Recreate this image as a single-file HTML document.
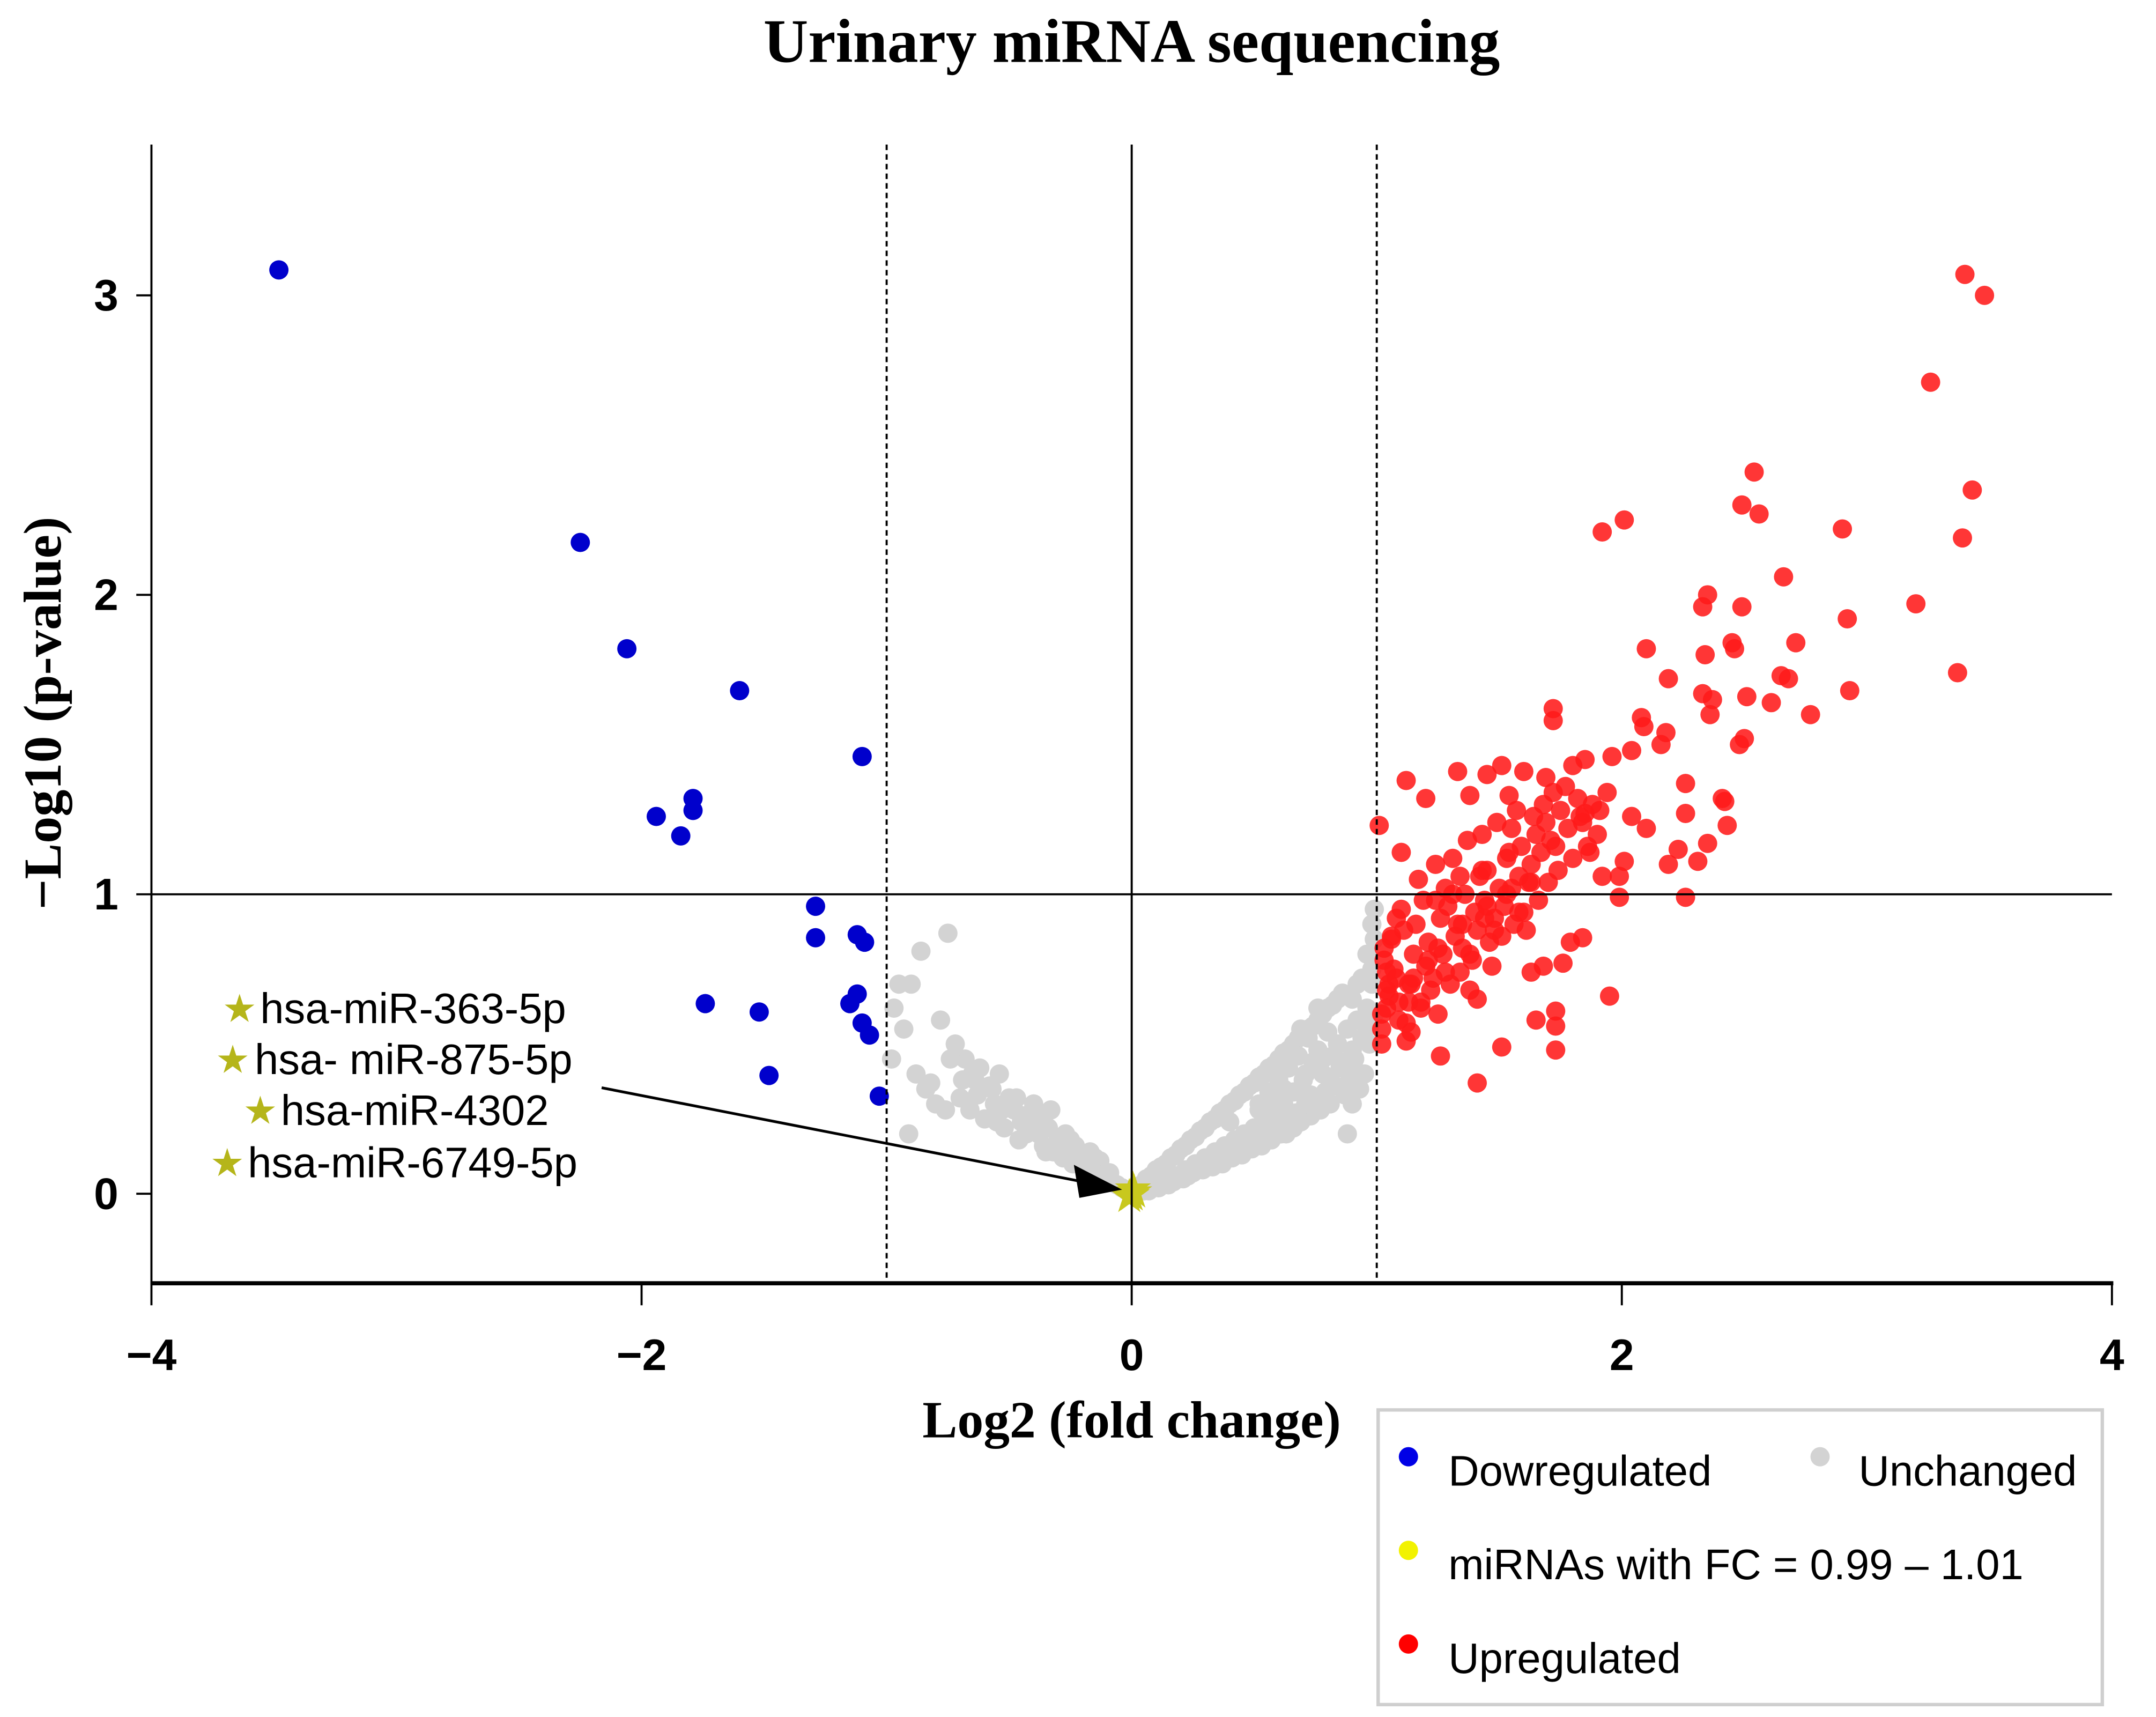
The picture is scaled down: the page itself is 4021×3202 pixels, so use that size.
<!DOCTYPE html>
<html><head><meta charset="utf-8"><style>
html,body{margin:0;padding:0;background:#fff}
svg{display:block}
text{font-family:"Liberation Sans",Arial,sans-serif}
.serif{font-family:"Liberation Serif","Times New Roman",serif;font-weight:bold}
</style></head><body>
<svg id="chart" width="4021" height="3202" viewBox="0 0 1566 1247" xmlns="http://www.w3.org/2000/svg">
<rect width="1566" height="1247" fill="#fff"/>
<text class="serif" x="822" y="45" font-size="45" text-anchor="middle">Urinary miRNA sequencing</text>
<g id="marks"></g>
<g id="axes"></g>
<text class="serif" x="822" y="1044" font-size="38" text-anchor="middle">Log2 (fold change)</text>
<text class="serif" transform="translate(44,518) rotate(-90)" font-size="39" text-anchor="middle">−Log10 (p-value)</text>
<g>
<text x="174" y="742" font-size="28" fill="#b5b51a" text-anchor="middle">★</text>
<text x="189" y="743" font-size="31">hsa-miR-363-5p</text>
<text x="169" y="779" font-size="28" fill="#b5b51a" text-anchor="middle">★</text>
<text x="185" y="780" font-size="31">hsa- miR-875-5p</text>
<text x="189" y="816" font-size="28" fill="#b5b51a" text-anchor="middle">★</text>
<text x="204" y="817" font-size="31">hsa-miR-4302</text>
<text x="165" y="854" font-size="28" fill="#b5b51a" text-anchor="middle">★</text>
<text x="180" y="855" font-size="31">hsa-miR-6749-5p</text>
<line x1="437" y1="790" x2="785" y2="858" stroke="#000" stroke-width="2"/>
<polygon points="815,864 780,846 784,870" fill="#000"/>
</g>
<g>
<rect x="1001" y="1024" width="526" height="214" fill="#fff" stroke="#cfcfcf" stroke-width="2.5"/>
<circle cx="1023" cy="1058" r="7" fill="#0000e6"/>
<text x="1052" y="1079" font-size="31">Dowregulated</text>
<circle cx="1322" cy="1058" r="7" fill="#d3d3d3"/>
<text x="1350" y="1079" font-size="31">Unchanged</text>
<circle cx="1023" cy="1126" r="7" fill="#f2f200"/>
<text x="1052" y="1147" font-size="31">miRNAs with FC = 0.99 – 1.01</text>
<circle cx="1023" cy="1194" r="7" fill="#ff0000"/>
<text x="1052" y="1215" font-size="31">Upregulated</text>
</g>
</svg>
<script>
const xTicks=[-4,-2,0,2,4];
const yTicks=[0,1,2,3];
const downX=[-3.48,-2.25,-2.06,-1.60,-1.10,-1.79,-1.79,-1.94,-1.84,-1.29,-1.29,-1.12,-1.09,-1.74,-1.52,-1.12,-1.15,-1.10,-1.07,-1.48,-1.03];
const downY=[3.085,2.175,1.82,1.68,1.46,1.32,1.28,1.26,1.195,0.96,0.855,0.865,0.84,0.635,0.607,0.667,0.635,0.57,0.53,0.395,0.326];
const upX=[3.40,3.48,3.26,3.43,3.39,3.20,3.37,2.54,2.49,2.56,2.90,2.01,1.92,2.35,2.33,2.49,2.66,2.92,2.10,2.45,2.34,2.71,2.46,2.19,2.65,2.68,2.93,2.33,2.37,2.51,2.61,2.77,2.36,2.08,2.09,2.50,2.48,2.18,2.16,2.04,1.72,1.72,2.26,2.41,2.42,2.26,2.35,2.43,2.23,2.19,2.31,1.99,1.99,2.26,2.01,2.04,2.10,1.85,1.84,1.76,1.73,1.73,1.73,1.63,1.41,1.51,1.41,1.26,1.12,1.02,1.12,1.20,1.33,1.45,1.51,1.60,1.69,1.80,1.85,1.96,1.54,1.38,1.01,1.10,
1.02,1.04,1.05,1.03,1.06,1.08,1.02,1.04,1.07,1.09,1.03,1.05,1.08,1.11,1.13,1.10,1.12,1.15,1.14,1.16,1.18,1.17,1.20,1.19,1.22,1.21,1.24,1.23,1.26,1.25,1.28,1.27,1.30,1.29,1.32,1.31,1.34,1.33,1.36,1.35,1.38,1.37,1.40,1.39,1.42,1.41,1.44,1.43,1.46,1.45,1.48,1.47,1.50,1.49,1.52,1.51,1.54,1.53,1.56,1.55,1.58,1.57,1.60,1.59,1.62,1.61,1.64,1.63,1.66,1.65,1.68,1.67,1.70,1.69,1.72,1.71,1.74,1.75,1.78,1.77,1.80,1.82,1.84,1.86,1.88,1.90,1.92,1.94,1.83,1.87,1.91,1.95,1.15,1.25,1.35,1.45,1.55,1.65,1.18,1.28,1.38,1.48,1.58,1.68,1.06,1.09,1.13,1.21,1.31,1.43,1.53,1.63,1.73,1.79,1.24,1.34,1.44,1.14,1.04,1.07];
const upY=[3.07,3.0,2.71,2.35,2.19,1.97,1.74,2.41,2.30,2.27,2.22,2.25,2.21,2.0,1.96,1.96,2.06,1.92,1.82,1.84,1.80,1.84,1.82,1.72,1.73,1.72,1.68,1.67,1.65,1.66,1.64,1.60,1.60,1.59,1.56,1.52,1.50,1.54,1.50,1.48,1.62,1.58,1.37,1.32,1.31,1.27,1.17,1.23,1.15,1.10,1.11,0.99,1.06,0.99,1.11,1.26,1.22,1.27,0.855,0.77,0.61,0.56,0.48,0.74,0.65,0.49,0.37,0.46,0.51,0.50,1.38,1.32,1.41,1.40,1.43,1.41,1.39,1.43,1.45,1.46,1.33,1.33,1.23,1.14,
0.55,0.62,0.70,0.78,0.85,0.92,0.60,0.68,0.75,0.58,0.82,0.66,0.72,0.88,0.64,0.95,0.57,0.80,0.70,0.90,0.62,1.05,0.76,0.98,0.68,0.84,1.10,0.72,0.92,0.60,1.02,0.80,0.70,0.96,0.86,1.12,0.74,0.90,1.00,0.82,0.68,1.18,0.94,0.78,1.06,0.88,0.98,1.20,0.84,1.08,0.92,0.76,1.02,1.24,0.96,0.86,1.14,1.00,0.90,1.22,1.06,1.28,0.94,1.16,1.04,0.88,1.26,1.10,0.98,1.20,1.30,1.14,1.04,1.24,1.34,1.18,1.08,1.28,1.22,1.36,1.12,1.32,1.24,1.16,1.30,1.20,1.06,1.34,1.26,1.14,1.28,0.66,0.72,0.82,0.90,0.96,1.02,0.58,0.64,0.74,0.80,0.88,0.94,0.76,0.86,0.64,0.70,0.78,1.00,1.08,1.12,1.04,1.16,0.84,0.98,1.06,0.92,0.54,0.74];
const grayX=[-0.75,-0.86,-0.90,-0.95,-0.98,-0.91,-0.97,-0.93,-0.88,-0.84,-0.80,-0.78,-0.72,-0.70,-0.68,-0.66,-0.64,-0.62,-0.60,-0.58,-0.56,-0.54,-0.52,-0.50,-0.48,-0.46,-0.44,-0.42,-0.40,-0.38,-0.36,-0.34,-0.32,-0.30,-0.28,-0.26,-0.24,-0.22,-0.20,-0.18,-0.16,-0.14,-0.12,-0.10,-0.08,-0.06,-0.04,-0.02,-0.74,-0.69,-0.63,-0.57,-0.53,-0.47,-0.43,-0.37,-0.33,-0.27,-0.23,-0.17,-0.13,-0.09,-0.82,-0.76,-0.65,-0.55,-0.45,-0.35,-0.25,-0.15,
0.02,0.04,0.06,0.08,0.10,0.12,0.14,0.16,0.18,0.20,0.22,0.24,0.26,0.28,0.30,0.32,0.34,0.36,0.38,0.40,0.42,0.44,0.46,0.48,0.50,0.52,0.54,0.56,0.58,0.60,0.62,0.64,0.66,0.68,0.70,0.72,0.74,0.76,0.78,0.80,0.82,0.84,0.86,0.88,0.90,0.92,0.94,0.96,0.98,0.99,0.97,0.95,0.93,0.91,0.89,0.87,0.85,0.83,0.81,0.79,0.77,0.75,0.73,0.71,0.69,0.67,0.65,0.63,0.61,0.59,0.57,0.55,0.53,0.51,0.49,0.47,0.45,0.43,0.41,0.39,0.37,0.35,0.33,0.31,0.29,0.27,0.25,0.23,0.21,0.19,0.17,0.15,0.13,0.11,0.09,0.07,0.05,0.03,0.99,0.98,0.97,0.96,0.94,0.92,0.90,0.88,0.86,0.84,0.82,0.80,0.78,0.76,0.74,0.72,0.70,0.68,0.66,0.64,0.62,0.60,0.58,0.56,0.54,0.52,0.50,0.46,0.42,0.38,0.34,0.30,0.26,0.22,0.18,0.14,0.10,0.90,0.89,0.99,0.98,
0.55,0.62,0.71,0.66,0.78,0.84,0.45,0.36,0.58,0.73,0.69,0.81,0.93,0.52,0.63,0.40,0.76,0.87];
const grayY=[0.87,0.81,0.70,0.70,0.45,0.20,0.62,0.55,0.40,0.35,0.30,0.58,0.50,0.32,0.45,0.28,0.38,0.42,0.25,0.36,0.30,0.40,0.22,0.32,0.28,0.18,0.26,0.24,0.30,0.20,0.16,0.22,0.14,0.18,0.12,0.15,0.10,0.12,0.09,0.10,0.07,0.08,0.06,0.05,0.04,0.03,0.02,0.01,0.45,0.38,0.33,0.35,0.28,0.32,0.20,0.25,0.28,0.20,0.16,0.14,0.11,0.07,0.37,0.28,0.40,0.24,0.24,0.14,0.18,0.12,
0.02,0.03,0.05,0.06,0.08,0.09,0.10,0.12,0.13,0.15,0.16,0.18,0.19,0.21,0.22,0.24,0.25,0.27,0.28,0.30,0.31,0.33,0.34,0.36,0.37,0.39,0.40,0.42,0.43,0.45,0.47,0.48,0.50,0.52,0.53,0.55,0.56,0.58,0.60,0.62,0.63,0.65,0.67,0.20,0.65,0.70,0.72,0.80,0.90,0.95,0.50,0.40,0.35,0.45,0.38,0.33,0.42,0.36,0.30,0.34,0.28,0.32,0.26,0.30,0.24,0.27,0.22,0.25,0.20,0.23,0.18,0.21,0.16,0.19,0.15,0.17,0.13,0.15,0.12,0.13,0.10,0.12,0.09,0.10,0.08,0.09,0.07,0.06,0.05,0.05,0.04,0.03,0.03,0.02,0.02,0.01,0.01,0.01,0.60,0.70,0.56,0.62,0.52,0.58,0.48,0.55,0.44,0.50,0.46,0.54,0.40,0.48,0.44,0.52,0.38,0.46,0.34,0.42,0.30,0.38,0.28,0.34,0.26,0.30,0.22,0.20,0.18,0.16,0.14,0.12,0.10,0.08,0.06,0.05,0.04,0.30,0.40,0.85,0.75,
0.26,0.35,0.40,0.22,0.45,0.50,0.14,0.12,0.30,0.33,0.55,0.38,0.58,0.28,0.20,0.24,0.62,0.35];
const fcX=[0,0.01,-0.01,0.005];
const fcY=[0,0.01,-0.005,0.02];

const NS='http://www.w3.org/2000/svg';
const X0=110,X1=1534,Yt=105,Yb=932;
function xs(v){return 822+178*v;}
function ys(v){return 867-217.5*v;}
const marks=document.getElementById('marks');
const axes=document.getElementById('axes');
function mk(tag,attrs,parent){const e=document.createElementNS(NS,tag);for(const k in attrs)e.setAttribute(k,attrs[k]);parent.appendChild(e);return e;}

let l;
l=mk('line',{x1:X0,x2:X1,y1:ys(1),y2:ys(1),stroke:'#000','stroke-width':1.5},axes);


l=mk('line',{x1:xs(0),x2:xs(0),y1:Yt,y2:Yb,stroke:'#000','stroke-width':1.5},axes);


[-1,1].forEach(v=>{
  const d=mk('line',{x1:xs(v),x2:xs(v),y1:Yt,y2:Yb,stroke:'#000','stroke-width':1.5,'stroke-dasharray':'4,3'},axes);
  
  
});
l=mk('line',{x1:X0,x2:X0,y1:Yt,y2:Yb+1,stroke:'#000','stroke-width':1.5},axes);


l=mk('line',{x1:X0,x2:X1+1,y1:Yb,y2:Yb,stroke:'#000','stroke-width':3},axes);


xTicks.forEach(v=>{
  const t=mk('line',{x1:xs(v),x2:xs(v),y1:Yb,y2:Yb+16,stroke:'#000','stroke-width':1.5},axes);
  
  
  const tx=mk('text',{x:xs(v),y:Yb+63,'font-size':32,'font-weight':'bold','text-anchor':'middle'},axes);
  tx.textContent=(v<0?'−':'')+Math.abs(v);
  
  
});
yTicks.forEach(v=>{
  const t=mk('line',{x1:X0-11,x2:X0,y1:ys(v),y2:ys(v),stroke:'#000','stroke-width':1.5},axes);
  
  
  const tx=mk('text',{x:X0-24,y:ys(v)+11,'font-size':32,'font-weight':'bold','text-anchor':'end'},axes);
  tx.textContent=String(v);
  
  
});
function series(xa,ya,fill,op,name){
  const n=Math.min(xa.length,ya.length);
  for(let i=0;i<n;i++){
    const c=mk('circle',{cx:xs(xa[i]),cy:ys(ya[i]),r:7,fill:fill,'fill-opacity':op},marks);
    
    
  }
}
series(grayX,grayY,'#d3d3d3',1,'point-unchanged');
series(downX,downY,'#0000cc',1,'point-downregulated');
series(upX,upY,'#ff1a1a',0.88,'point-upregulated');
for(let i=0;i<fcX.length;i++){
  const s=mk('text',{x:xs(fcX[i]),y:ys(fcY[i])+12,'font-size':34,fill:'#c8c81e','text-anchor':'middle'},marks);
  s.textContent='★';
  
  
}
</script>
</body></html>
